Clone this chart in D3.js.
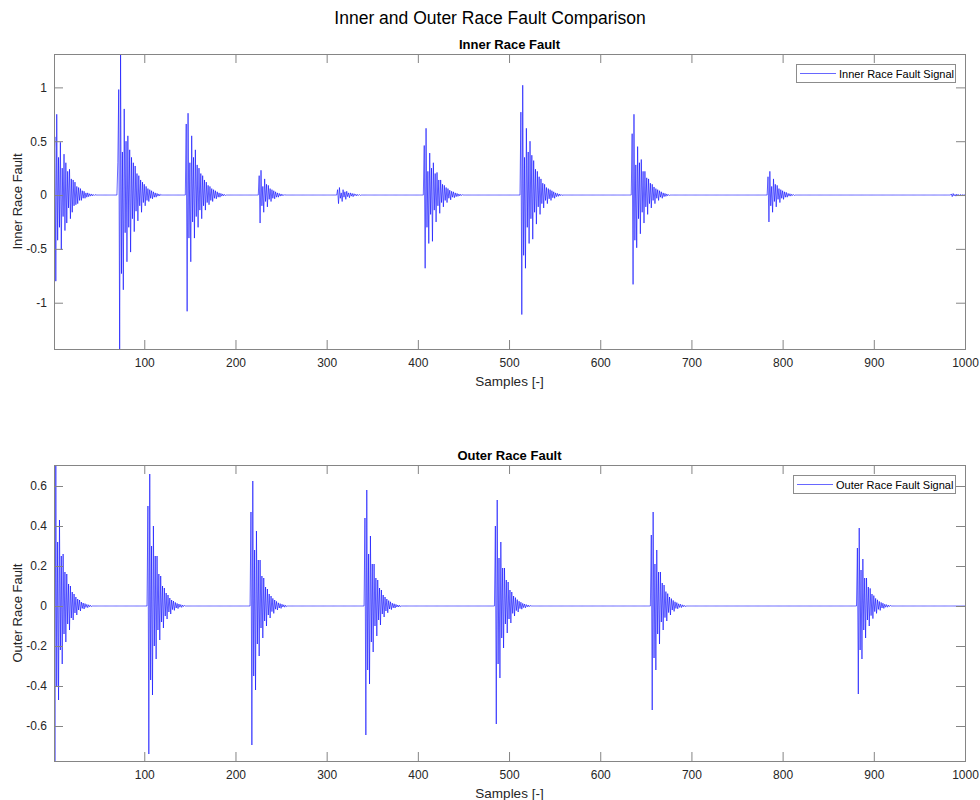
<!DOCTYPE html>
<html><head><meta charset="utf-8">
<script src="https://cdn.jsdelivr.net/npm/d3@7"></script>
<style>
body{margin:0;background:#fff}
svg{display:block}
text{font-family:"Liberation Sans",Arial,Helvetica,sans-serif}
</style>
</head><body>
<svg id="chart" width="980" height="800"></svg>
<script>
// ---------------- DATA ----------------
const sampleCount = 1000;
const xTickValues = [100, 200, 300, 400, 500, 600, 700, 800, 900, 1000];
const innerYTickValues = [-1, -0.5, 0, 0.5, 1];
const outerYTickValues = [-0.6, -0.4, -0.2, 0, 0.2, 0.4, 0.6];

// sample index where each impulse response starts
const innerOnsets = [1, 71, 146, 226, 312, 407, 513, 635, 784, 985];
// sample values of each impulse response
const innerBursts = [
  [0.30, 0.54, -0.80, 0.75, -0.42, 0.35, -0.30, 0.49, -0.51, 0.25, -0.20, 0.38, -0.33, 0.30, -0.26, 0.22, -0.12, 0.24, -0.22, 0.15, -0.16, 0.14, -0.10, 0.12, -0.09, 0.08, -0.08, 0.07, -0.05, 0.06, -0.05, 0.04, -0.03, 0.035, -0.03, 0.02, -0.02, 0.02, -0.015, 0.012, -0.01, 0.01, -0.008, 0.006, -0.005, 0.004],
  [0.30, 0.98, -1.43, 1.31, -0.73, 0.40, -0.88, 0.80, -0.35, 0.50, -0.62, 0.55, -0.30, 0.42, -0.53, 0.35, -0.22, 0.30, -0.34, 0.27, -0.15, 0.20, -0.24, 0.18, -0.10, 0.14, -0.16, 0.12, -0.07, 0.10, -0.10, 0.08, -0.05, 0.06, -0.06, 0.05, -0.03, 0.04, -0.035, 0.03, -0.02, 0.02, -0.02, 0.015, -0.01, 0.01, -0.008, 0.006],
  [0.66, -1.08, 0.76, -0.40, 0.30, -0.62, 0.55, -0.25, 0.35, -0.40, 0.42, -0.20, 0.28, -0.30, 0.25, -0.14, 0.20, -0.22, 0.18, -0.10, 0.14, -0.14, 0.12, -0.07, 0.09, -0.09, 0.08, -0.05, 0.06, -0.06, 0.05, -0.03, 0.04, -0.035, 0.03, -0.02, 0.02, -0.02, 0.015, -0.01, 0.01, -0.008, 0.006, -0.004],
  [0.18, -0.26, 0.23, -0.10, 0.08, -0.16, 0.15, -0.06, 0.10, -0.11, 0.09, -0.04, 0.06, -0.06, 0.05, -0.03, 0.04, -0.035, 0.03, -0.02, 0.02, -0.02, 0.015, -0.01, 0.01, -0.008, 0.006, -0.005, 0.004],
  [0.05, -0.08, 0.07, -0.03, 0.02, -0.06, 0.05, -0.02, 0.03, -0.04, 0.035, -0.015, 0.02, -0.025, 0.02, -0.01, 0.015, -0.015, 0.012, -0.006, 0.008, -0.008, 0.006, -0.004, 0.004, -0.003],
  [0.46, -0.68, 0.62, -0.30, 0.22, -0.45, 0.39, -0.18, 0.25, -0.43, 0.30, -0.14, 0.20, -0.25, 0.21, -0.10, 0.14, -0.17, 0.14, -0.07, 0.10, -0.11, 0.09, -0.05, 0.07, -0.07, 0.06, -0.03, 0.045, -0.045, 0.035, -0.02, 0.03, -0.025, 0.02, -0.015, 0.015, -0.012, 0.01, -0.008, 0.007, -0.005, 0.004],
  [0.77, -1.11, 1.02, -0.56, 0.35, -0.68, 0.62, -0.30, 0.40, -0.45, 0.50, -0.22, 0.37, -0.41, 0.32, -0.16, 0.24, -0.27, 0.22, -0.11, 0.17, -0.18, 0.15, -0.08, 0.11, -0.12, 0.10, -0.05, 0.07, -0.08, 0.06, -0.035, 0.05, -0.05, 0.04, -0.025, 0.03, -0.03, 0.02, -0.015, 0.015, -0.012, 0.01, -0.007, 0.006, -0.004],
  [0.57, -0.83, 0.75, -0.42, 0.28, -0.49, 0.45, -0.22, 0.30, -0.36, 0.33, -0.16, 0.22, -0.26, 0.22, -0.11, 0.16, -0.18, 0.15, -0.08, 0.11, -0.12, 0.10, -0.05, 0.075, -0.08, 0.06, -0.03, 0.05, -0.05, 0.04, -0.02, 0.03, -0.03, 0.02, -0.015, 0.015, -0.012, 0.01, -0.007, 0.005, -0.004],
  [0.17, -0.25, 0.22, -0.10, 0.08, -0.16, 0.15, -0.06, 0.10, -0.11, 0.09, -0.04, 0.06, -0.07, 0.05, -0.03, 0.04, -0.04, 0.03, -0.02, 0.025, -0.02, 0.015, -0.01, 0.012, -0.01, 0.008, -0.005, 0.005, -0.004],
  [0.01, -0.015, 0.014, -0.008, 0.006, -0.01, 0.009, -0.004, 0.005, -0.006, 0.005, -0.003, 0.003, -0.002, 0.002, -0.001]
];

const outerOnsets = [1, 104, 217, 342, 485, 656, 882];
const outerBursts = [
  [0.53, -0.775, 0.705, -0.40, 0.32, -0.47, 0.43, -0.22, 0.25, -0.29, 0.26, -0.14, 0.17, -0.18, 0.16, -0.09, 0.11, -0.12, 0.10, -0.06, 0.07, -0.07, 0.06, -0.035, 0.045, -0.045, 0.035, -0.02, 0.03, -0.025, 0.02, -0.012, 0.015, -0.015, 0.012, -0.007, 0.008, -0.008, 0.006, -0.004, 0.004, -0.003],
  [0.50, -0.74, 0.66, -0.37, 0.30, -0.445, 0.40, -0.20, 0.25, -0.265, 0.25, -0.12, 0.16, -0.17, 0.15, -0.08, 0.10, -0.11, 0.09, -0.05, 0.065, -0.065, 0.055, -0.03, 0.04, -0.04, 0.03, -0.018, 0.025, -0.022, 0.018, -0.01, 0.013, -0.013, 0.01, -0.006, 0.007, -0.007, 0.005, -0.003, 0.003],
  [0.47, -0.695, 0.625, -0.35, 0.28, -0.42, 0.375, -0.19, 0.23, -0.25, 0.23, -0.11, 0.15, -0.16, 0.14, -0.075, 0.095, -0.10, 0.085, -0.045, 0.06, -0.06, 0.05, -0.028, 0.038, -0.037, 0.03, -0.016, 0.023, -0.02, 0.016, -0.01, 0.012, -0.012, 0.009, -0.005, 0.006, -0.006, 0.004, -0.003],
  [0.44, -0.645, 0.58, -0.32, 0.26, -0.39, 0.35, -0.18, 0.21, -0.23, 0.21, -0.10, 0.14, -0.15, 0.13, -0.07, 0.09, -0.095, 0.08, -0.04, 0.055, -0.055, 0.045, -0.025, 0.035, -0.034, 0.027, -0.015, 0.021, -0.018, 0.014, -0.009, 0.011, -0.01, 0.008, -0.005, 0.005, -0.005, 0.004, -0.003],
  [0.40, -0.59, 0.53, -0.29, 0.24, -0.36, 0.32, -0.16, 0.19, -0.21, 0.19, -0.09, 0.13, -0.135, 0.12, -0.065, 0.08, -0.085, 0.07, -0.037, 0.05, -0.05, 0.042, -0.023, 0.032, -0.03, 0.024, -0.013, 0.019, -0.016, 0.013, -0.008, 0.01, -0.009, 0.007, -0.004, 0.005, -0.004, 0.003],
  [0.355, -0.52, 0.47, -0.26, 0.21, -0.32, 0.28, -0.14, 0.17, -0.19, 0.17, -0.08, 0.115, -0.12, 0.105, -0.058, 0.072, -0.075, 0.062, -0.033, 0.045, -0.045, 0.037, -0.02, 0.028, -0.027, 0.021, -0.012, 0.017, -0.014, 0.011, -0.007, 0.009, -0.008, 0.006, -0.004, 0.004, -0.003],
  [0.29, -0.44, 0.39, -0.22, 0.18, -0.265, 0.235, -0.12, 0.14, -0.16, 0.14, -0.07, 0.095, -0.10, 0.088, -0.048, 0.06, -0.063, 0.052, -0.028, 0.038, -0.037, 0.031, -0.017, 0.023, -0.022, 0.018, -0.01, 0.014, -0.012, 0.009, -0.006, 0.007, -0.006, 0.005, -0.003, 0.003]
];

// ---------------- BUILD ----------------
function buildSeries(onsets, bursts) {
  const v = new Array(sampleCount).fill(0);
  onsets.forEach((o, i) => {
    bursts[i].forEach((val, k) => {
      const idx = o - 1 + k;
      if (idx < sampleCount) v[idx] = val;
    });
  });
  return v.map((y, i) => ({ x: i + 1, y }));
}

const innerSeries = buildSeries(innerOnsets, innerBursts);
const outerSeries = buildSeries(outerOnsets, outerBursts);

const svg = d3.select("#chart");
const axisColor = "#858585";
const textColor = "#262626";

svg.append("text")
  .attr("x", 490).attr("y", 24)
  .attr("text-anchor", "middle")
  .attr("font-size", "17.5px")
  .attr("fill", "#000")
  .text("Inner and Outer Race Fault Comparison");

function panel(cfg) {
  const L = 54, R = 965, T = cfg.top, B = cfg.bottom;
  const g = svg.append("g");
  const x = d3.scaleLinear().domain([1, sampleCount]).range([L, R]);
  const y = d3.scaleLinear().domain(d3.extent(cfg.series, d => d.y)).range([B, T]);

  const clipId = "clip-" + cfg.id;
  svg.append("clipPath").attr("id", clipId)
    .append("rect").attr("x", L).attr("y", T).attr("width", R - L).attr("height", B - T);

  // signal
  g.append("path")
    .datum(cfg.series)
    .attr("clip-path", `url(#${clipId})`)
    .attr("fill", "none")
    .attr("stroke", "#0000ff")
    .attr("stroke-width", 0.6)
    .attr("d", d3.line().x(d => x(d.x)).y(d => y(d.y)));

  const fmt = d => String(d);
  function styleAxis(sel) {
    sel.selectAll(".domain").remove();
    sel.selectAll(".tick line").attr("stroke", axisColor);
    sel.selectAll(".tick text").attr("fill", textColor)
      .attr("font-size", "12px")
      .attr("font-family", '"Liberation Sans",Arial,Helvetica,sans-serif');
  }
  g.append("g").attr("transform", `translate(0,${B})`)
    .call(d3.axisBottom(x).tickValues(xTickValues).tickFormat(fmt).tickSizeInner(-9).tickSizeOuter(0).tickPadding(9))
    .call(styleAxis);
  g.append("g").attr("transform", `translate(0,${T})`)
    .call(d3.axisTop(x).tickValues(xTickValues).tickFormat("").tickSizeInner(-9).tickSizeOuter(0))
    .call(styleAxis);
  g.append("g").attr("transform", `translate(${L},0)`)
    .call(d3.axisLeft(y).tickValues(cfg.yTicks).tickFormat(fmt).tickSizeInner(-9).tickSizeOuter(0).tickPadding(7))
    .call(styleAxis);
  g.append("g").attr("transform", `translate(${R},0)`)
    .call(d3.axisRight(y).tickValues(cfg.yTicks).tickFormat("").tickSizeInner(-9).tickSizeOuter(0))
    .call(styleAxis);

  // box
  g.append("rect")
    .attr("x", L + 0.5).attr("y", T + 0.5)
    .attr("width", R - L).attr("height", B - T)
    .attr("fill", "none").attr("stroke", axisColor).attr("stroke-width", 1);

  // subplot title
  g.append("text")
    .attr("x", (L + R) / 2).attr("y", T - 5)
    .attr("text-anchor", "middle")
    .attr("font-size", "13px").attr("font-weight", "bold").attr("fill", "#000")
    .text(cfg.title);

  // x label
  g.append("text")
    .attr("x", (L + R) / 2).attr("y", B + 37)
    .attr("text-anchor", "middle")
    .attr("font-size", "13.5px").attr("fill", textColor)
    .text("Samples [-]");

  // y label
  g.append("text")
    .attr("transform", `translate(22,${(T + B) / 2}) rotate(-90)`)
    .attr("text-anchor", "middle")
    .attr("font-size", "13px").attr("fill", textColor)
    .text(cfg.ylabel);

  // legend
  const lg = g.append("g");
  lg.append("rect")
    .attr("x", cfg.legend.x + 0.5).attr("y", T + 10.5)
    .attr("width", 955 - cfg.legend.x).attr("height", 18)
    .attr("fill", "#fff").attr("stroke", "#8c8c8c").attr("stroke-width", 1);
  lg.append("line")
    .attr("x1", cfg.legend.x + 4).attr("x2", cfg.legend.x + 40)
    .attr("y1", T + 19.5).attr("y2", T + 19.5)
    .attr("stroke", "#0000ff").attr("stroke-width", 0.6);
  lg.append("text")
    .attr("x", cfg.legend.x + 43).attr("y", T + 23.5)
    .attr("font-size", "11px").attr("fill", "#000")
    .text(cfg.legendLabel);
}

panel({ id: "inner", top: 54, bottom: 349, series: innerSeries, yTicks: innerYTickValues,
  title: "Inner Race Fault", ylabel: "Inner Race Fault",
  legend: { x: 796 }, legendLabel: "Inner Race Fault Signal" });
panel({ id: "outer", top: 465, bottom: 761, series: outerSeries, yTicks: outerYTickValues,
  title: "Outer Race Fault", ylabel: "Outer Race Fault",
  legend: { x: 793 }, legendLabel: "Outer Race Fault Signal" });
</script>
</body></html>
